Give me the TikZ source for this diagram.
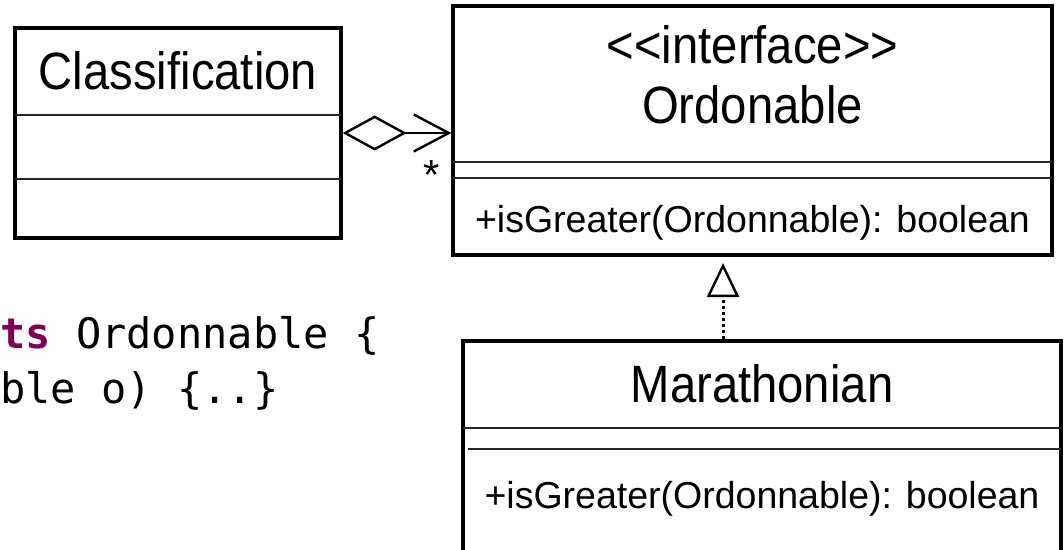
\documentclass[tikz,border=0pt]{standalone}
\usepackage{fontspec}
\setmainfont{Liberation Sans}
\newfontfamily\titlefont{Liberation Sans}[FakeStretch=0.9]
\newfontfamily\memberfont{Liberation Sans}
\newfontfamily\codefont{DejaVu Sans Mono}
\usetikzlibrary{arrows.meta}
\definecolor{keyword}{RGB}{127,0,85}
\tikzset{
  classbox/.style={draw, line width=3.3pt, inner sep=0pt, rectangle},
  divider/.style={line width=1.3pt, black!85},
  title/.style={inner sep=0pt, anchor=base, font=\titlefont\fontsize{52.5}{60}\selectfont},
  member/.style={inner sep=0pt, anchor=base, font=\memberfont\fontsize{37.5}{44}\selectfont},
  code/.style={inner sep=0pt, anchor=base west, font=\codefont\fontsize{42}{48}\selectfont},
  aggregation/.style={line width=2.4pt, {Diamond[open,length=64pt,width=35pt,line width=2.4pt]}-{Straight Barb[length=35pt,width=37pt,line width=2.4pt]}},
  realization/.style={line width=3pt, dash pattern=on 3pt off 3pt, -{Triangle[open,length=34pt,width=32pt,line width=2.4pt]}, shorten >=8pt}
}
\begin{document}
\begin{tikzpicture}[x=1pt,y=-1pt]
\useasboundingbox (0,0) rectangle (1064,549);

% class Classification
\node[classbox, minimum width=326pt, minimum height=210pt] (cls) at (178,133) {};
\draw[divider] (15,115) -- (341,115);
\draw[divider] (15,179) -- (341,179);
\node[title] (clsname) at (178,89) {Classification};

% interface Ordonable
\node[classbox, minimum width=599pt, minimum height=249pt] (ord) at (752.5,130.5) {};
\draw[divider] (453,162) -- (1052,162);
\draw[divider] (453,178) -- (1052,178);
\node[title] (ordstereo) at (752.5,63) {<<interface>>};
\node[title] (ordname) at (752.5,123) {Ordonable};
\node[member] (ordop) at (752.5,232) {+isGreater(Ordonnable): boolean};

% class Marathonian
\node[classbox, minimum width=598pt, minimum height=224pt] (mar) at (762,453) {};
\draw[divider] (463,428) -- (1061,428);
\draw[divider] (468,449) -- (1061,449);
\node[title] (marname) at (762,402) {Marathonian};
\node[member] (marop) at (762,508) {+isGreater(Ordonnable): boolean};

% aggregation Classification -> Ordonable
\draw[aggregation] (cls.east) -- (ord.west |- cls.east);
\node[member, font=\memberfont\fontsize{42}{48}\selectfont] (mult) at (432,189) {*};

% realization Marathonian -> Ordonable
\coordinate (realtop) at (723,255);
\draw[realization] (mar.north -| realtop) -- (realtop);

% Java source excerpt
\node[code] (code1) at (0,348) {\textcolor{keyword}{\bfseries ts} Ordonnable \{};
\node[code] (code2) at (0,403) {ble o) \{..\}};
\end{tikzpicture}
\end{document}
